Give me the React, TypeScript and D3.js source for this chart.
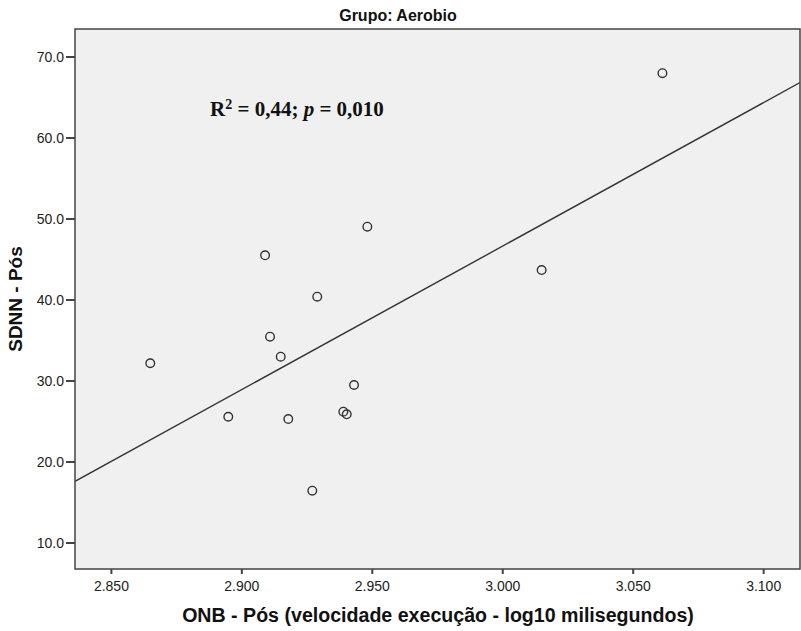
import React, { useEffect } from 'react';
import * as d3 from 'd3';

// ONB - Pós (log10 ms) vs SDNN - Pós, grupo Aerobio
const onbPos = [3.0612, 2.8649, 2.8948, 2.9089, 2.9108, 2.9149, 2.9178, 2.9289, 2.9270, 2.9389, 2.9402, 2.9430, 2.9481, 3.0149];
const sdnnPos = [68.0, 32.19, 25.59, 45.52, 35.47, 33.0, 25.31, 40.41, 16.46, 26.21, 25.89, 29.51, 49.05, 43.70];
const xTicks = [2.85, 2.9, 2.95, 3.0, 3.05, 3.1];
const yTicks = [10, 20, 30, 40, 50, 60, 70];

const W = 801;
const H = 631;
const margin = { top: 29, right: 1, bottom: 62, left: 75 };
const sans = '"Liberation Sans", Arial, sans-serif';

const App: React.FC = () => {
  useEffect(() => {
    document.body.style.margin = '0';
  }, []);

  const innerW = W - margin.left - margin.right;
  const innerH = H - margin.top - margin.bottom;

  const x = d3.scaleLinear().domain([2.83605, 3.11393]).range([0, innerW]);
  const y = d3.scaleLinear().domain([6.79, 73.46]).range([innerH, 0]);

  // least squares fit
  const mx = d3.mean(onbPos) || 0;
  const my = d3.mean(sdnnPos) || 0;
  let sxy = 0;
  let sxx = 0;
  onbPos.forEach((v, i) => {
    sxy += (v - mx) * (sdnnPos[i] - my);
    sxx += (v - mx) * (v - mx);
  });
  const slope = sxy / sxx;
  const fit = (v: number) => my + slope * (v - mx);
  const [x0, x1] = x.domain();

  const lineGen = d3.line<number>().x(d => x(d)).y(d => y(fit(d)));

  return (
    <svg width={W} height={H} style={{ display: 'block', background: '#fff' }}>
      <text x={398} y={21} textAnchor="middle" fontFamily={sans} fontWeight="bold" fontSize={16} fill="#111">
        Grupo: Aerobio
      </text>
      <g transform={`translate(${margin.left},${margin.top})`}>
        <rect x={0} y={0} width={innerW} height={innerH} fill="#f0f0f0" />
        <defs>
          <clipPath id="plotClip">
            <rect x={0} y={0} width={innerW} height={innerH} />
          </clipPath>
        </defs>
        <path d={lineGen([x0, x1]) || ''} fill="none" stroke="#333" strokeWidth={1.4} clipPath="url(#plotClip)" />
        {onbPos.map((v, i) => (
          <circle key={i} cx={x(v)} cy={y(sdnnPos[i])} r={4.3} fill="none" stroke="#333" strokeWidth={1.4} />
        ))}
        <rect x={0} y={0} width={innerW} height={innerH} fill="none" stroke="#444" strokeWidth={1.5} />

        {yTicks.map(t => (
          <g key={t} transform={`translate(0,${y(t)})`}>
            <line x1={-9} x2={0} stroke="#444" strokeWidth={2} />
            <text x={-11} dy="0.35em" textAnchor="end" fontFamily={sans} fontSize={14} fill="#222">
              {t.toFixed(1)}
            </text>
          </g>
        ))}
        {xTicks.map(t => (
          <g key={t} transform={`translate(${x(t)},${innerH})`}>
            <line y1={0} y2={5} stroke="#444" strokeWidth={2} />
            <text y={22} textAnchor="middle" fontFamily={sans} fontSize={14} fill="#222">
              {t.toFixed(3)}
            </text>
          </g>
        ))}

        <text x={x(2.8878)} y={y(62.7)} fontFamily='"Liberation Serif", "Times New Roman", serif' fontWeight="bold" fontSize={21} fill="#111">
          <tspan>R</tspan>
          <tspan fontSize={14} dy={-7}>2</tspan>
          <tspan dy={7}> = 0,44; </tspan>
          <tspan fontStyle="italic">p</tspan>
          <tspan> = 0,010</tspan>
        </text>
      </g>

      <text
        transform={`translate(22,${margin.top + innerH / 2}) rotate(-90)`}
        textAnchor="middle"
        fontFamily={sans}
        fontWeight="bold"
        fontSize={19}
        fill="#111"
      >
        SDNN - Pós
      </text>
      <text x={438} y={622} textAnchor="middle" fontFamily={sans} fontWeight="bold" fontSize={19.6} fill="#111">
        ONB - Pós (velocidade execução - log10 milisegundos)
      </text>
    </svg>
  );
};

export default App;
